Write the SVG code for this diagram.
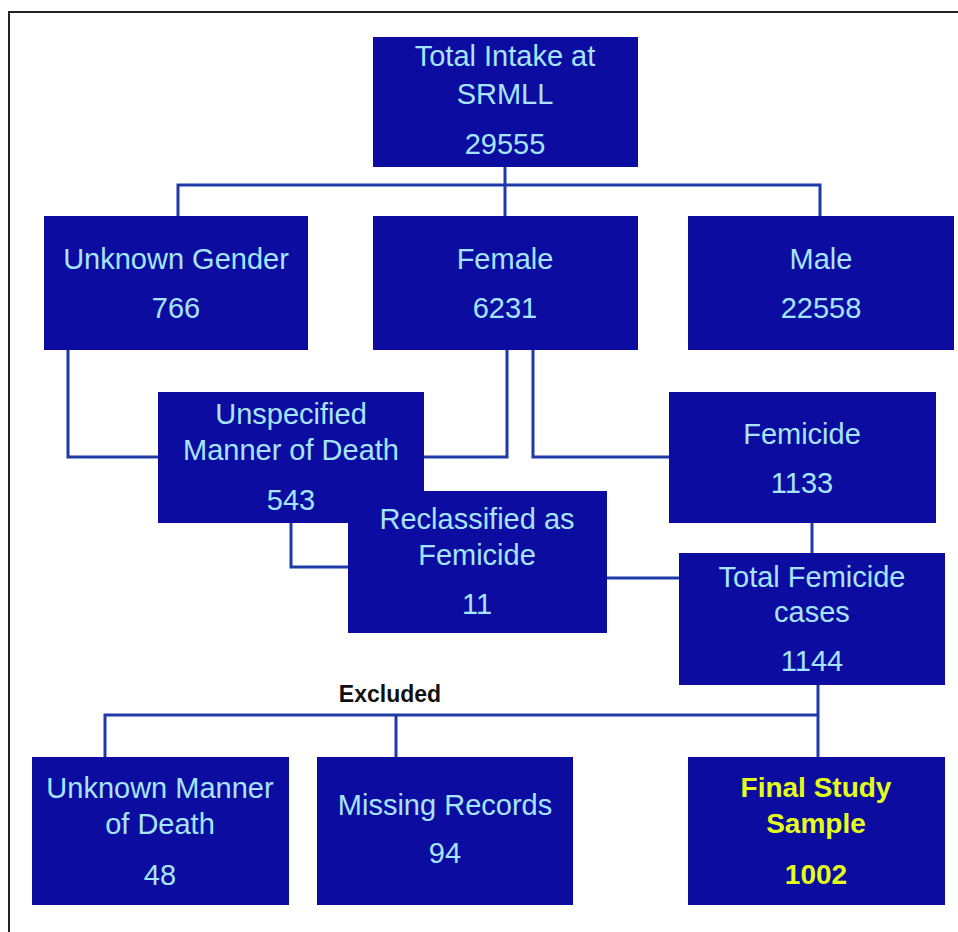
<svg xmlns="http://www.w3.org/2000/svg" width="958" height="932" viewBox="0 0 958 932">
<style>
.box{fill:#0c0ca0;}
.t{font-family:"Liberation Sans",Arial,sans-serif;font-size:29px;fill:#a6e4ff;text-anchor:middle;}
.y{font-family:"Liberation Sans",Arial,sans-serif;font-size:28px;font-weight:bold;fill:#e4ff1a;text-anchor:middle;}
.c{fill:none;stroke:#1d3aa6;stroke-width:3;}
.lbl{font-family:"Liberation Sans",Arial,sans-serif;font-size:23px;font-weight:bold;fill:#111;text-anchor:middle;}
</style>
<rect x="0" y="0" width="958" height="932" fill="#ffffff"/>
<rect x="9" y="12" width="960" height="940" fill="none" stroke="#222" stroke-width="2"/>
<g id="connectors">
<path class="c" d="M505 167V216M178 216V185H820V216"/>
<path class="c" d="M68 350V457H158"/>
<path class="c" d="M507 350V457H424"/>
<path class="c" d="M533 350V457H669"/>
<path class="c" d="M291 523V567H348"/>
<path class="c" d="M607 578H679"/>
<path class="c" d="M812 523V553"/>
<path class="c" d="M818 685V757M818 715H105V757M396 715V757"/>
<text class="lbl" x="390" y="702">Excluded</text>
</g>
<g id="total"><rect class="box" x="373" y="37" width="265" height="130"/>
<text class="t" x="505" y="66">Total Intake at</text><text class="t" x="505" y="104">SRMLL</text><text class="t" x="505" y="154">29555</text></g>
<g id="unknown-gender"><rect class="box" x="44" y="216" width="264" height="134"/>
<text class="t" x="176" y="269">Unknown Gender</text><text class="t" x="176" y="318">766</text></g>
<g id="female"><rect class="box" x="373" y="216" width="265" height="134"/>
<text class="t" x="505" y="269">Female</text><text class="t" x="505" y="318">6231</text></g>
<g id="male"><rect class="box" x="688" y="216" width="266" height="134"/>
<text class="t" x="821" y="269">Male</text><text class="t" x="821" y="318">22558</text></g>
<g id="unspecified"><rect class="box" x="158" y="392" width="266" height="131"/>
<text class="t" x="291" y="424">Unspecified</text><text class="t" x="291" y="460">Manner of Death</text><text class="t" x="291" y="510">543</text></g>
<g id="femicide"><rect class="box" x="669" y="392" width="267" height="131"/>
<text class="t" x="802" y="444">Femicide</text><text class="t" x="802" y="493">1133</text></g>
<g id="reclassified"><rect class="box" x="348" y="491" width="259" height="142"/>
<text class="t" x="477" y="529">Reclassified as</text><text class="t" x="477" y="565">Femicide</text><text class="t" x="477" y="614">11</text></g>
<g id="total-femicide"><rect class="box" x="679" y="553" width="266" height="132"/>
<text class="t" x="812" y="587">Total Femicide</text><text class="t" x="812" y="622">cases</text><text class="t" x="812" y="671">1144</text></g>
<g id="unknown-manner"><rect class="box" x="32" y="757" width="257" height="148"/>
<text class="t" x="160" y="798">Unknown Manner</text><text class="t" x="160" y="834">of Death</text><text class="t" x="160" y="885">48</text></g>
<g id="missing"><rect class="box" x="317" y="757" width="256" height="148"/>
<text class="t" x="445" y="815">Missing Records</text><text class="t" x="445" y="863">94</text></g>
<g id="final"><rect class="box" x="688" y="757" width="257" height="148"/>
<text class="y" x="816" y="797">Final Study</text><text class="y" x="816" y="833">Sample</text><text class="y" x="816" y="884">1002</text></g>
</svg>
